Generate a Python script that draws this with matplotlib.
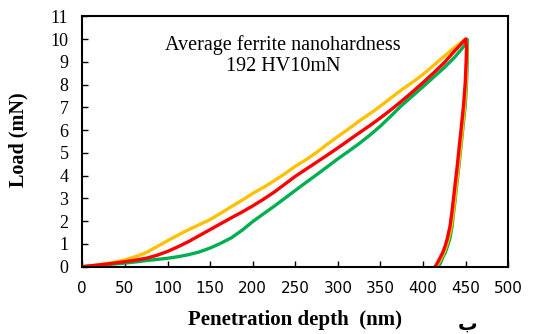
import numpy as np
import matplotlib
matplotlib.use("Agg")
import matplotlib.pyplot as plt

# loading branches, depth (nm) vs load (mN)
depth_load = [0, 12.5, 25, 37.5, 50, 62.5, 75, 87.5, 100, 112.5, 125, 137.5,
              150, 162.5, 175, 187.5, 200, 212.5, 225, 237.5, 250, 262.5, 275, 287.5,
              300, 312.5, 325, 337.5, 350, 362.5, 375, 387.5, 400, 412.5, 425, 437.5, 450]
load_yellow = [0, 0.05, 0.11, 0.19, 0.30, 0.44, 0.62, 0.88, 1.14, 1.39, 1.63, 1.85,
               2.07, 2.35, 2.64, 2.92, 3.22, 3.48, 3.77, 4.08, 4.41, 4.70, 5.02, 5.38,
               5.72, 6.05, 6.40, 6.72, 7.06, 7.42, 7.78, 8.10, 8.45, 8.85, 9.25, 9.65, 10.0]
load_red = [0, 0.05, 0.10, 0.16, 0.22, 0.29, 0.37, 0.50, 0.67, 0.88, 1.11, 1.37,
            1.63, 1.89, 2.15, 2.40, 2.67, 2.96, 3.27, 3.62, 3.97, 4.28, 4.59, 4.90,
            5.22, 5.55, 5.88, 6.20, 6.54, 6.90, 7.28, 7.68, 8.09, 8.52, 8.97, 9.50, 10.0]
load_green = [0, 0.04, 0.08, 0.12, 0.16, 0.21, 0.27, 0.32, 0.37, 0.44, 0.53, 0.65,
              0.82, 1.03, 1.27, 1.60, 1.98, 2.32, 2.65, 3.00, 3.35, 3.70, 4.04, 4.39,
              4.74, 5.07, 5.41, 5.78, 6.18, 6.63, 7.09, 7.50, 7.91, 8.33, 8.75, 9.22, 9.78]

# unloading branches
unload_load = [10.0, 9.6, 9.0, 8.1, 7.1, 6.2, 5.3, 4.4, 3.6, 2.9, 2.3, 1.76,
               1.25, 0.88, 0.62, 0.40, 0.18, 0]
unload_red = [450, 451, 450.5, 449.5, 447.5, 445, 442.5, 440, 437.5, 435.4, 433.5, 431.5,
              428.5, 425.6, 423, 420, 417, 414]
unload_yellow = [450, 451.5, 451.2, 450.5, 448.8, 446.5, 444, 441.5, 439, 437, 435, 433,
                 430, 427, 424.5, 421.5, 418.5, 415.5]
unload_green = [451.5, 452, 451.8, 451, 449.5, 447, 444.5, 442, 439.5, 437.5, 435.5, 434,
                431.5, 428.5, 426, 423, 420.5, 418]

YELLOW = "#FFC000"
RED = "#FF0000"
GREEN = "#00B050"
SERIF = "Liberation Serif"

fig = plt.figure(figsize=(5.41, 3.34), dpi=100)
ax = fig.add_axes([82.3 / 541, 1 - 266.7 / 334, 426 / 541, 250.4 / 334])

lw = 2.4
for load, unload_depth, c in [(load_green, unload_green, GREEN),
                              (load_yellow, unload_yellow, YELLOW),
                              (load_red, unload_red, RED)]:
    ax.plot(depth_load + unload_depth, load + unload_load, color=c, lw=lw,
            solid_capstyle="round", solid_joinstyle="round")

ax.set_xlim(0, 500)
ax.set_ylim(0, 11)
ax.set_xticks(np.arange(0, 501, 50))
ax.set_yticks(np.arange(0, 12, 1))
ax.tick_params(direction="in", length=4, width=1, colors="black")
ax.tick_params(axis="y", pad=10)
ax.tick_params(axis="x", pad=10)
for lab in ax.get_yticklabels():
    lab.set_family(SERIF)
    lab.set_fontsize(13)
for lab in ax.get_xticklabels():
    lab.set_family("DejaVu Sans")
    lab.set_fontsize(11)
for sp in ax.spines.values():
    sp.set_linewidth(1.5)

ax.set_xlabel("Penetration depth  (nm)", family=SERIF, fontweight="bold",
              fontsize=15, va="center")
ax.xaxis.set_label_coords(0.5, (266.7 - 320) / 250.4)
ax.set_ylabel("Load (mN)", family=SERIF, fontweight="bold", fontsize=14.5,
              va="center", ha="center")
ax.yaxis.set_label_coords((18 - 82.3) / 426, 0.506)

ax.text(235.6, 9.28, "Average ferrite nanohardness\n192 HV10mN", ha="center", va="center",
        family=SERIF, fontsize=14.5, linespacing=1.2)

fig.text(468 / 541, 1 - 324 / 334, "ب", ha="center", va="center",
         family="DejaVu Sans", fontsize=14, fontweight="bold")

fig.savefig("out.png", dpi=100)
